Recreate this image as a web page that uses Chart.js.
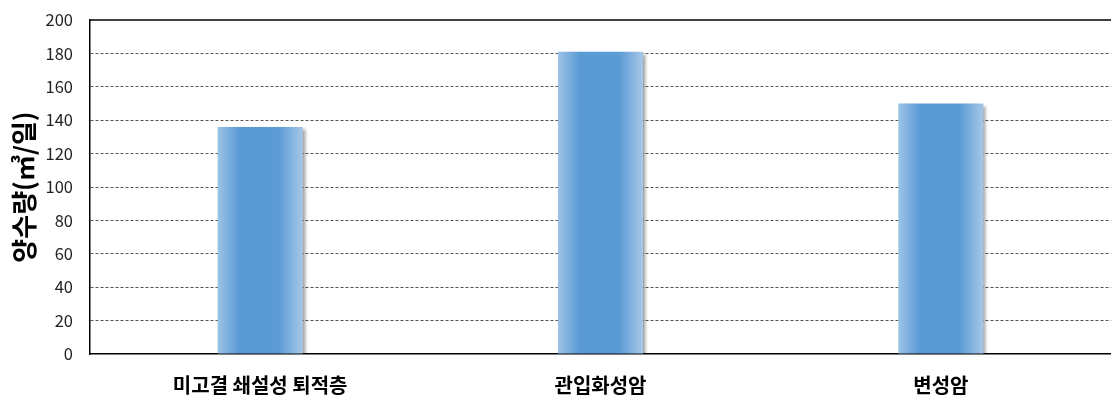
<!DOCTYPE html>
<html><head><meta charset="utf-8">
<script src="https://cdn.jsdelivr.net/npm/chart.js@4.4.1/dist/chart.umd.min.js"></script>
<style>html,body{margin:0;padding:0;background:#fff}#w{width:1111px;height:399px}</style>
</head><body><div id="w"><canvas id="c"></canvas></div>
<script>
const categories = ['미고결 쇄설성 퇴적층', '관입화성암', '변성암'];
const values = [136, 181, 150];
const yTicks = [0, 20, 40, 60, 80, 100, 120, 140, 160, 180, 200];
const yTitle = '양수량(㎥/일)';

const FONT = '"Noto Sans CJK KR", "Noto Sans", sans-serif';

function barFill(context) {
  const chart = context.chart;
  const xs = chart.scales.x;
  if (!xs || !chart.chartArea) return '#5b9bd5';
  const cx = xs.getPixelForValue(context.dataIndex);
  const w = (xs.width / categories.length) * 0.25;
  const g = chart.ctx.createLinearGradient(cx - w / 2, 0, cx + w / 2, 0);
  g.addColorStop(0, '#9dc3e6');
  g.addColorStop(0.25, '#5b9bd5');
  g.addColorStop(0.72, '#5b9bd5');
  g.addColorStop(1, '#a7c8e8');
  return g;
}

const framePlugin = {
  id: 'frame',
  beforeDatasetsDraw(chart) {
    const ctx = chart.ctx;
    ctx.save();
    ctx.shadowColor = 'rgba(0,0,0,0.35)';
    ctx.shadowOffsetX = 3;
    ctx.shadowOffsetY = 2;
    ctx.shadowBlur = 3;
  },
  afterDatasetsDraw(chart) {
    chart.ctx.restore();
    const ctx = chart.ctx, a = chart.chartArea;
    ctx.save();
    ctx.strokeStyle = '#000';
    ctx.lineWidth = 1.5;
    ctx.beginPath();
    ctx.moveTo(a.left, a.top);
    ctx.lineTo(a.right, a.top);
    ctx.stroke();
    ctx.restore();
  }
};

new Chart(document.getElementById('c'), {
  type: 'bar',
  data: {
    labels: categories,
    datasets: [{
      data: values,
      backgroundColor: barFill,
      borderWidth: 0,
      barPercentage: 0.25,
      categoryPercentage: 1.0
    }]
  },
  options: {
    responsive: true,
    maintainAspectRatio: false,
    animation: false,
    layout: { padding: { top: 20, right: 0, left: 0, bottom: 0 } },
    plugins: { legend: { display: false }, tooltip: { enabled: false } },
    scales: {
      x: {
        grid: { display: false, drawTicks: false },
        border: { display: true, color: '#000', width: 1.5 },
        ticks: { color: '#000', font: { family: FONT, size: 20, weight: 'bold' }, padding: 19, maxRotation: 0 },
        afterFit(s) { s.height = 45; }
      },
      y: {
        min: 0, max: 200,
        afterBuildTicks(s) { s.ticks = yTicks.map(v => ({ value: v })); },
        grid: {
          drawTicks: true,
          tickLength: 17,
          tickColor: 'rgba(0,0,0,0)',
          color: c => (c.tick && (c.tick.value === 0 || c.tick.value === 200)) ? 'rgba(0,0,0,0)' : '#555',
          lineWidth: 1
        },
        border: { display: true, color: '#000', width: 1.5, dash: [3, 2] },
        ticks: { color: '#222', font: { family: FONT, size: 16.5 }, padding: 0 },
        title: { display: true, text: yTitle, color: '#000', font: { family: FONT, size: 26, weight: 'bold' }, padding: { top: 9, bottom: 0 } },
        afterFit(s) { s.width = 90; }
      }
    }
  },
  plugins: [framePlugin]
});
</script>
</body></html>
